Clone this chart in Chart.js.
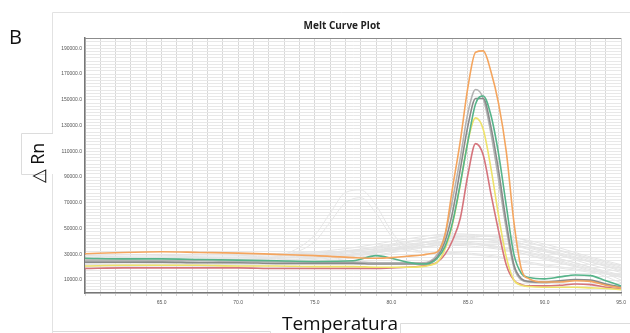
<!DOCTYPE html>
<html>
<head>
<meta charset="utf-8">
<script src="https://cdn.jsdelivr.net/npm/chart.js@4.4.1/dist/chart.umd.min.js"></script>
<style>
html,body{margin:0;padding:0;background:#fff;}
canvas{display:block;}
</style>
</head>
<body>
<canvas id="c" width="630" height="333"></canvas>
<script>
// ---- Data ----
const chartTitle = "Melt Curve Plot";
const xTitle = "Temperatura";
const yTitle = "\u25B3 Rn";
const panelLabel = "B";

const temps = [60, 62.5, 65, 67.5, 70, 72.5, 75, 77.5, 79, 80, 81, 82, 82.5, 83, 83.5, 84, 84.5, 85, 85.5, 86, 86.5, 87, 87.5, 88, 88.5, 89, 90, 91, 92, 93, 94, 95];

const orangeRn = [30500,31500,32000,31500,31000,30000,29000,27500,27000,27500,28500,29500,30500,
  32000,45000,82000,118000,160000,187000,188000,172000,147000,110000,55000,18000,11000,8500,8500,9500,9000,6000,4000];
const greenRn = [27000,26500,26500,26000,25500,25000,24500,25000,29000,27000,24000,22500,23000,
  27000,36000,55000,85000,118000,147000,153000,138000,108000,68000,30000,15000,12000,11000,12500,14000,13500,9500,5500];
const grayRn = [25500,25500,25000,25000,24500,24500,24000,24000,23500,23500,23500,23500,24500,
  30000,45000,73000,105000,140000,158000,151000,124000,88000,50000,20000,10000,8500,8000,9000,10000,9500,6500,4000];
const darkGrayRn = [24000,24000,24000,23500,23500,23000,23000,23000,22500,22500,22500,22500,23500,
  28000,40000,63000,96000,130000,151000,151000,129000,95000,55000,22000,11000,9000,8500,9500,10500,10000,7000,4500];
const yellowRn = [21000,21500,21500,21500,21000,21000,20500,20500,20000,20000,20000,20500,21500,
  24000,34000,54000,84000,118000,136000,127000,97000,60000,28000,10000,6000,5000,4500,4500,4500,4000,3500,2500];
const redRn = [19000,19500,19500,19500,19500,19000,19000,19000,19000,19500,20000,21000,22000,
  24000,30000,41000,58000,92000,116000,107000,77000,48000,22000,10000,6500,5500,5500,6000,7000,6500,4500,3000];

// background (other wells) curves
const bgTemps = [60, 65, 70, 75, 78, 81, 84, 87, 90, 93, 95];
const bg1 = [28000,29000,30000,32000,36000,42000,46000,43000,33000,22000,16000];
const bg2 = [24000,25000,26000,29000,34000,40000,44000,40000,30000,20000,14000];
const bg3 = [22000,23000,24000,27000,31000,37000,42000,41000,34000,25000,19000];
const bg4 = [26000,27000,28000,30000,33000,38000,40000,36000,28000,19000,13000];
const bg5 = [20000,21000,22000,25000,29000,35000,40000,39000,32000,24000,18000];
const bg6 = [25000,26000,27000,29000,32000,35000,37000,34000,27000,18000,12000];
const bg7 = [21000,22000,23000,26000,30000,36000,43000,44000,38000,28000,22000];
const bg8 = [27000,28000,29000,31000,34000,39000,45000,45000,36000,26000,20000];
const bg9 = [23000,24000,25000,27000,30000,34000,38000,38000,33000,24000,17000];
const bg10 = [19000,20000,21000,24000,28000,33000,38000,36000,29000,20000,10000];
const bg11 = [29000,30000,30000,31000,33000,36000,39000,35000,26000,17000,8000];
const bg12 = [24000,25000,26000,28000,31000,35000,41000,42000,36000,27000,21000];
const spikeTemps = [60, 65, 70, 73, 75, 76, 77, 78, 79, 80, 81, 83, 86, 90, 95];
const spike1 = [24000,25000,26000,30000,45000,62000,78000,80000,68000,48000,35000,32000,30000,22000,14000];
const spike2 = [23000,24000,25000,29000,40000,55000,70000,74000,62000,44000,33000,31000,29000,21000,13000];

const xTickLabels = [65, 70, 75, 80, 85, 90, 95];
const yTickLabels = [10000, 30000, 50000, 70000, 90000, 110000, 130000, 150000, 170000, 190000];

// ---- Build datasets ----
function pts(xs, ys){ return xs.map((x,i)=>({x:x, y:ys[i]})); }
const mainSeries = [
  {d: orangeRn, c: '#f4a55e'},
  {d: greenRn, c: '#56b48a'},
  {d: darkGrayRn, c: '#8a8a8a'},
  {d: grayRn, c: '#b3b3b3'},
  {d: yellowRn, c: '#eee26a'},
  {d: redRn, c: '#d5747c'}
];
const bgSeries = [bg1,bg2,bg3,bg4,bg5,bg6,bg7,bg8,bg9,bg10,bg11,bg12];

const datasets = [];
mainSeries.forEach(s => datasets.push({
  data: pts(temps, s.d), borderColor: s.c, borderWidth: 1.6,
  pointRadius: 0, cubicInterpolationMode: 'monotone', fill: false
}));
bgSeries.forEach(s => datasets.push({
  data: pts(bgTemps, s), borderColor: '#e4e4e4', borderWidth: 1,
  pointRadius: 0, cubicInterpolationMode: 'monotone', fill: false
}));
[spike1, spike2].forEach(s => datasets.push({
  data: pts(spikeTemps, s), borderColor: '#e6e6e6', borderWidth: 1,
  pointRadius: 0, cubicInterpolationMode: 'monotone', fill: false
}));

const decor = {
  id: 'decor',
  beforeDraw(chart){
    const ctx = chart.ctx;
    ctx.save();
    ctx.fillStyle = '#fff';
    ctx.fillRect(0,0,chart.width,chart.height);
    ctx.strokeStyle = '#e2e2e2';
    ctx.lineWidth = 1;
    ctx.beginPath();
    ctx.moveTo(52.5, 333); ctx.lineTo(52.5, 12.5); ctx.lineTo(630, 12.5);
    ctx.stroke();
    ctx.restore();
  },
  afterDraw(chart){
    const ctx = chart.ctx;
    const a = chart.chartArea;
    ctx.save();
    ctx.strokeStyle = '#8c8c8c';
    ctx.lineWidth = 1.2;
    ctx.beginPath(); ctx.moveTo(a.left, a.top + 0.5); ctx.lineTo(a.right, a.top + 0.5); ctx.stroke();
    // title
    ctx.fillStyle = '#222';
    ctx.font = 'bold 10px "Open Sans", sans-serif';
    ctx.textAlign = 'center'; ctx.textBaseline = 'middle';
    ctx.fillText(chartTitle, 342, 26);
    // panel label
    ctx.fillStyle = '#111';
    ctx.font = '20px "Open Sans", sans-serif';
    ctx.textAlign = 'left'; ctx.textBaseline = 'alphabetic';
    ctx.fillText(panelLabel, 9, 44);
    // y title box
    ctx.fillStyle = '#fff';
    ctx.fillRect(21, 133, 33, 41);
    ctx.strokeStyle = '#dcdcdc'; ctx.lineWidth = 1;
    ctx.beginPath();
    ctx.moveTo(53, 133.5); ctx.lineTo(21.5, 133.5); ctx.lineTo(21.5, 174.5); ctx.lineTo(46, 174.5);
    ctx.stroke();
    ctx.save();
    ctx.translate(39, 163);
    ctx.rotate(-Math.PI/2);
    ctx.fillStyle = '#111';
    ctx.font = '18px "Open Sans", sans-serif';
    ctx.textAlign = 'center'; ctx.textBaseline = 'middle';
    ctx.fillText(yTitle, 0, 0);
    ctx.restore();
    // x title boxes
    ctx.fillStyle = '#fff';
    ctx.fillRect(270, 318, 130, 15);
    ctx.strokeStyle = '#dcdcdc';
    ctx.beginPath();
    ctx.moveTo(53, 331.5); ctx.lineTo(270.5, 331.5); ctx.lineTo(270.5, 333);
    ctx.moveTo(630, 323.5); ctx.lineTo(400.5, 323.5); ctx.lineTo(400.5, 333);
    ctx.stroke();
    ctx.fillStyle = '#111';
    ctx.font = '19px "Open Sans", sans-serif';
    ctx.textAlign = 'center'; ctx.textBaseline = 'alphabetic';
    ctx.fillText(xTitle, 340, 330);
    ctx.restore();
  }
};

new Chart(document.getElementById('c'), {
  type: 'line',
  data: { datasets },
  options: {
    responsive: false,
    devicePixelRatio: 1,
    animation: false,
    layout: { padding: { top: 38, right: 4, left: 0, bottom: 0 } },
    plugins: { legend: { display: false }, tooltip: { enabled: false }, title: { display: false } },
    scales: {
      x: {
        type: 'linear', min: 60, max: 95,
        afterFit(s){ s.height = 40; },
        afterBuildTicks(s){ const t=[]; for(let v=60; v<=95; v+=1) t.push({value:v}); s.ticks = t; },
        grid: { color: '#d8d8d8', lineWidth: 1, drawTicks: true, tickLength: 3 },
        border: { color: '#777', width: 1.5 },
        ticks: {
          autoSkip: false, maxRotation: 0, padding: 4,
          color: '#555', font: { family: 'Liberation Sans', size: 5 },
          callback: v => xTickLabels.includes(v) ? v.toFixed(1) : ''
        }
      },
      y: {
        type: 'linear', min: 0, max: 198000,
        afterFit(s){ s.width = 85; },
        afterBuildTicks(s){ const t=[]; for(let v=0; v<=198000; v+=2500) t.push({value:v}); s.ticks = t; },
        grid: { color: '#e8e8e8', lineWidth: 1, drawTicks: false },
        border: { color: '#777', width: 1.5 },
        ticks: {
          autoSkip: false, padding: 3,
          color: '#555', font: { family: 'Liberation Sans', size: 5 },
          callback: v => yTickLabels.includes(v) ? v.toFixed(1) : ''
        }
      }
    }
  },
  plugins: [decor]
});
</script>
</body>
</html>
